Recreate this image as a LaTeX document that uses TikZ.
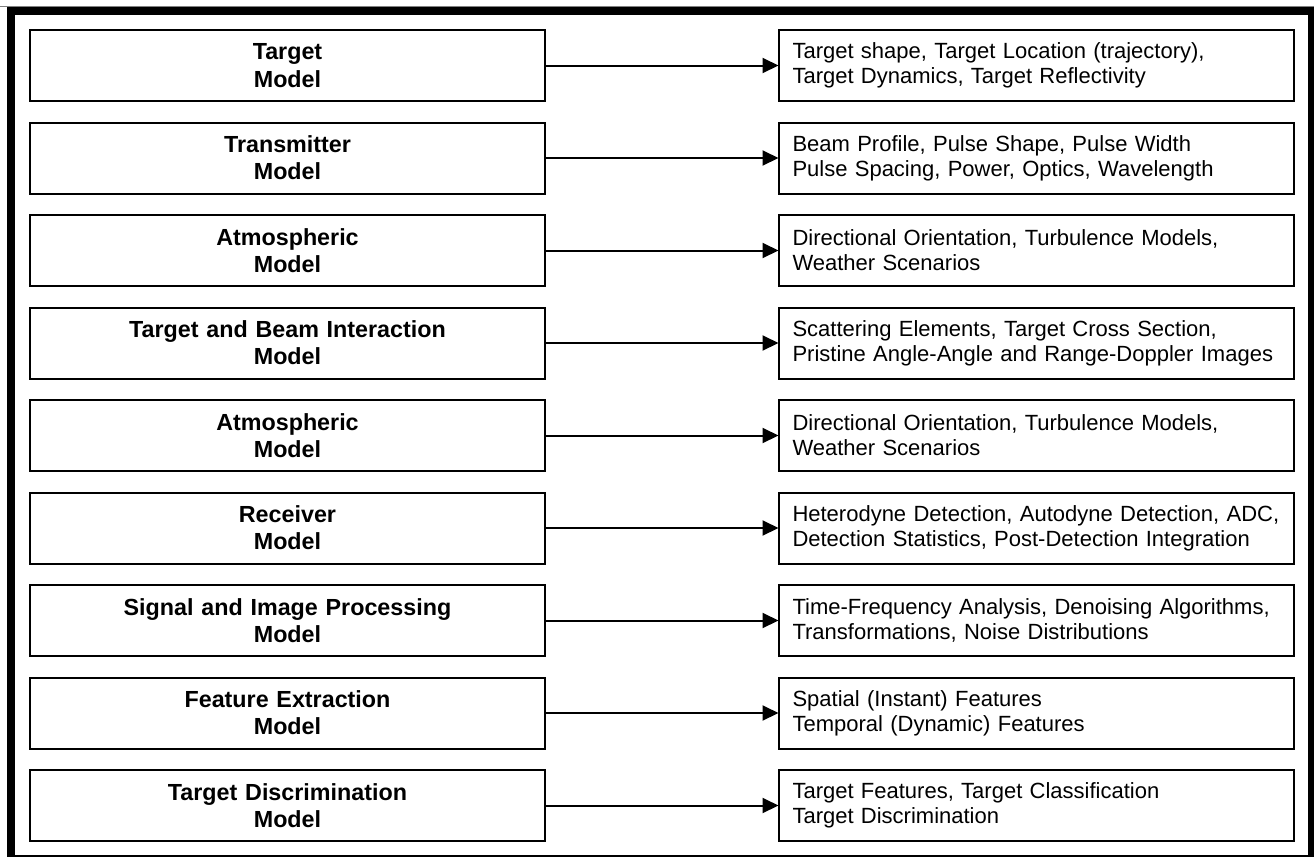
\documentclass[tikz,border=0pt]{standalone}
\usepackage{fontspec}
\setmainfont{Liberation Sans}
\usetikzlibrary{arrows.meta}
\begin{document}
\begin{tikzpicture}[x=0.5pt,y=-0.5pt,
  model/.style={draw, line width=1pt, minimum height=35.5pt, text width=243.5pt,
    inner xsep=7pt, inner ysep=0pt, outer sep=0pt, align=center,
    font=\bfseries\fontsize{11.65}{13.65}\selectfont},
  detail/.style={draw, line width=1pt, minimum height=35.5pt, text width=243.5pt,
    inner xsep=7pt, inner ysep=0pt, outer sep=0pt, align=left,
    font=\fontsize{11}{12.6}\selectfont},
  feed/.style={line width=1pt, -{Triangle[length=8pt,width=7.5pt]}}]
\useasboundingbox (0,0) rectangle (1314,858);

% outer frame
\draw[gray, line width=0.5pt] (0,6) -- (1314,6);
\fill (7,7) rectangle (1314,15);
\fill (7,7) rectangle (15,857);
\fill (1308,7) rectangle (1314,857);
\draw[line width=0.7pt] (7,856) -- (1314,856);

% model stages (left) and their contents (right)
\node[model]  (m1) at (287.5,65.5)  {Target\\ Model};
\node[detail] (d1) at (1036,65.5)   {Target shape, Target Location (trajectory),\\ Target Dynamics, Target Reflectivity};

\node[model]  (m2) at (287.5,158)   {Transmitter\\ Model};
\node[detail] (d2) at (1036,158)    {Beam Profile, Pulse Shape, Pulse Width\\ Pulse Spacing, Power, Optics, Wavelength};

\node[model]  (m3) at (287.5,250.5) {Atmospheric\\ Model};
\node[detail] (d3) at (1036,250.5)  {Directional Orientation, Turbulence Models,\\ Weather Scenarios};

\node[model]  (m4) at (287.5,343)   {Target and Beam Interaction\\ Model};
\node[detail] (d4) at (1036,343)    {Scattering Elements, Target Cross Section,\\ Pristine Angle-Angle and Range-Doppler Images};

\node[model]  (m5) at (287.5,435.5) {Atmospheric\\ Model};
\node[detail] (d5) at (1036,435.5)  {Directional Orientation, Turbulence Models,\\ Weather Scenarios};

\node[model]  (m6) at (287.5,528)   {Receiver\\ Model};
\node[detail] (d6) at (1036,528)    {Heterodyne Detection, Autodyne Detection, ADC,\\ Detection Statistics, Post-Detection Integration};

\node[model]  (m7) at (287.5,620.5) {Signal and Image Processing\\ Model};
\node[detail] (d7) at (1036,620.5)  {Time-Frequency Analysis, Denoising Algorithms,\\ Transformations, Noise Distributions};

\node[model]  (m8) at (287.5,713)   {Feature Extraction\\ Model};
\node[detail] (d8) at (1036,713)    {Spatial (Instant) Features\\ Temporal (Dynamic) Features};

\node[model]  (m9) at (287.5,805.5) {Target Discrimination\\ Model};
\node[detail] (d9) at (1036,805.5)  {Target Features, Target Classification\\ Target Discrimination};

\foreach \i in {1,...,9}
  \draw[feed] (m\i.east) -- (d\i.west);
\end{tikzpicture}
\end{document}
